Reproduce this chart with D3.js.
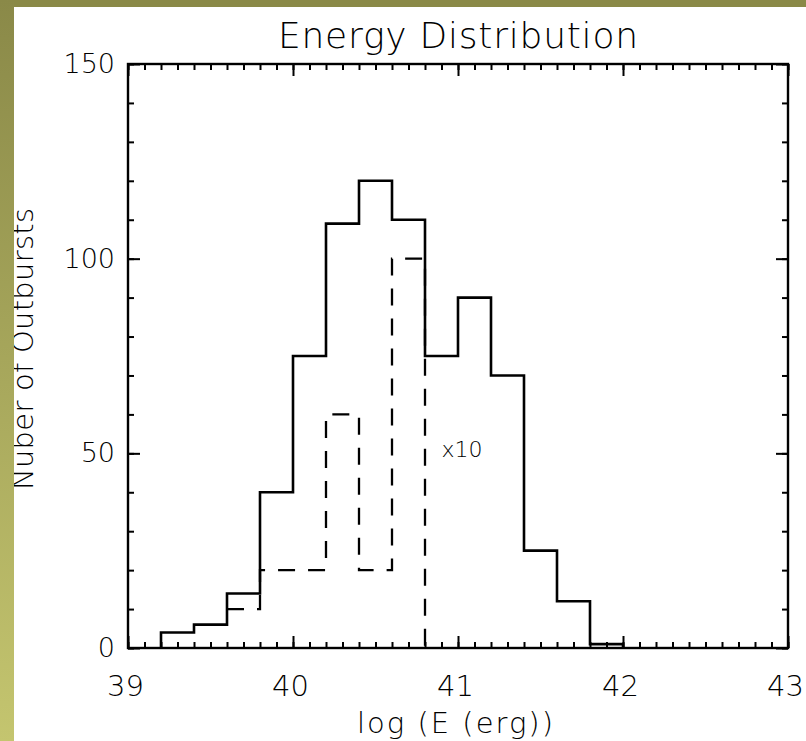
<!DOCTYPE html>
<html lang="en">
<head>
    <meta charset="UTF-8">
    <title>Energy Distribution</title>
    <script src="https://d3js.org/d3.v7.min.js"></script>
    <style>
        body { margin: 0; background: #fff; }
        svg { display: block; }
        .lbl { fill: #000; font-family: "DejaVu Sans", "Liberation Sans", sans-serif; font-weight: 200; }
    </style>
</head>
<body>
    <svg id="chart" width="806" height="741"></svg>
    <script>
        // bins of log(E), 0.2 wide (left edges)
        const solidBins = [39.2, 39.4, 39.6, 39.8, 40.0, 40.2, 40.4, 40.6, 40.8, 41.0, 41.2, 41.4, 41.6, 41.8];
        const solidCounts = [4, 6, 14, 40, 75, 109, 120, 110, 75, 90, 70, 25, 12, 1];
        // second sample, already multiplied by 10
        const dashedBins = [39.6, 39.8, 40.0, 40.2, 40.4, 40.6];
        const dashedCounts = [10, 20, 20, 60, 20, 100];
        const binWidth = 0.2;

        const xTicks = [39, 40, 41, 42, 43];
        const yTicks = [0, 50, 100, 150];

        const width = 806, height = 741;
        const margin = { top: 64, right: 18, bottom: 93, left: 128 };

        const svg = d3.select("#chart");

        const x = d3.scaleLinear().domain([39, 43]).range([margin.left, width - margin.right]);
        const y = d3.scaleLinear().domain([0, 150]).range([height - margin.bottom, margin.top]);

        // step outline of a histogram
        function steps(bins, counts) {
            const pts = [[bins[0], 0]];
            bins.forEach((b, i) => {
                pts.push([b, counts[i]]);
                pts.push([b + binWidth, counts[i]]);
            });
            pts.push([bins[bins.length - 1] + binWidth, 0]);
            return pts;
        }
        const line = d3.line().x(d => x(d[0])).y(d => y(d[1]));

        svg.append("path")
            .attr("d", line(steps(solidBins, solidCounts)))
            .attr("fill", "none")
            .attr("stroke", "#000")
            .attr("stroke-width", 2.6);

        svg.append("path")
            .attr("d", line(steps(dashedBins, dashedCounts).slice(1)))
            .attr("fill", "none")
            .attr("stroke", "#000")
            .attr("stroke-width", 2.3)
            .attr("stroke-dasharray", "17,13");

        svg.append("text")
            .attr("class", "lbl")
            .attr("x", x(40.9))
            .attr("y", y(49))
            .attr("font-size", 22)
            .attr("textLength", 41)
            .text("x10");

        // axes, ticks pointing inward
        const bottomY = height - margin.bottom;
        const axB = svg.append("g").attr("transform", `translate(0,${bottomY})`)
            .call(d3.axisBottom(x).tickValues(xTicks).tickSizeInner(-12).tickSizeOuter(0).tickFormat(d3.format("d")));
        axB.selectAll("text").attr("class", "lbl").attr("y", 48).attr("dy", null).attr("dx", -3)
            .attr("font-size", 29).attr("fill", null);
        svg.append("g").attr("transform", `translate(0,${bottomY})`)
            .call(d3.axisBottom(x).ticks(40).tickSizeInner(-6).tickSizeOuter(0).tickFormat(""));

        svg.append("g").attr("transform", `translate(0,${margin.top})`)
            .call(d3.axisTop(x).tickValues(xTicks).tickSizeInner(-12).tickSizeOuter(0).tickFormat(""));
        svg.append("g").attr("transform", `translate(0,${margin.top})`)
            .call(d3.axisTop(x).ticks(40).tickSizeInner(-6).tickSizeOuter(0).tickFormat(""));

        const axL = svg.append("g").attr("transform", `translate(${margin.left},0)`)
            .call(d3.axisLeft(y).tickValues(yTicks).tickSizeInner(-12).tickSizeOuter(0));
        axL.selectAll("text").attr("class", "lbl").attr("x", -13)
            .attr("font-size", 27).attr("fill", null);
        svg.append("g").attr("transform", `translate(${margin.left},0)`)
            .call(d3.axisLeft(y).ticks(15).tickSizeInner(-6).tickSizeOuter(0).tickFormat(""));

        svg.append("g").attr("transform", `translate(${width - margin.right},0)`)
            .call(d3.axisRight(y).tickValues(yTicks).tickSizeInner(-12).tickSizeOuter(0).tickFormat(""));
        svg.append("g").attr("transform", `translate(${width - margin.right},0)`)
            .call(d3.axisRight(y).ticks(15).tickSizeInner(-6).tickSizeOuter(0).tickFormat(""));

        svg.selectAll(".domain").remove();
        svg.selectAll(".tick line").attr("stroke", "#000").attr("stroke-width", 2);

        svg.append("rect")
            .attr("x", margin.left).attr("y", margin.top)
            .attr("width", width - margin.left - margin.right)
            .attr("height", height - margin.top - margin.bottom)
            .attr("fill", "none").attr("stroke", "#000").attr("stroke-width", 2.4);

        // titles
        svg.append("text")
            .attr("class", "lbl")
            .attr("x", (margin.left + width - margin.right) / 2)
            .attr("y", 48)
            .attr("text-anchor", "middle")
            .attr("font-size", 36)
            .attr("textLength", 360)
            .text("Energy Distribution");

        svg.append("text")
            .attr("class", "lbl")
            .attr("x", 455)
            .attr("y", 733)
            .attr("text-anchor", "middle")
            .attr("font-size", 29)
            .attr("textLength", 196)
            .text("log (E (erg))");

        svg.append("text")
            .attr("class", "lbl")
            .attr("transform", "translate(33,349) rotate(-90)")
            .attr("text-anchor", "middle")
            .attr("font-size", 29)
            .attr("textLength", 282)
            .text("Nuber of Outbursts");

        // olive frame of the slide
        const grad = svg.append("defs").append("linearGradient")
            .attr("id", "band").attr("x1", 0).attr("y1", 0).attr("x2", 0).attr("y2", 1);
        grad.append("stop").attr("offset", "0%").attr("stop-color", "#8a8948");
        grad.append("stop").attr("offset", "100%").attr("stop-color", "#c4c56f");

        svg.append("rect").attr("x", 0).attr("y", 0).attr("width", width).attr("height", 7).attr("fill", "#8a8947");
        svg.append("rect").attr("x", 0).attr("y", 0).attr("width", 14).attr("height", height).attr("fill", "url(#band)");
    </script>
</body>
</html>
